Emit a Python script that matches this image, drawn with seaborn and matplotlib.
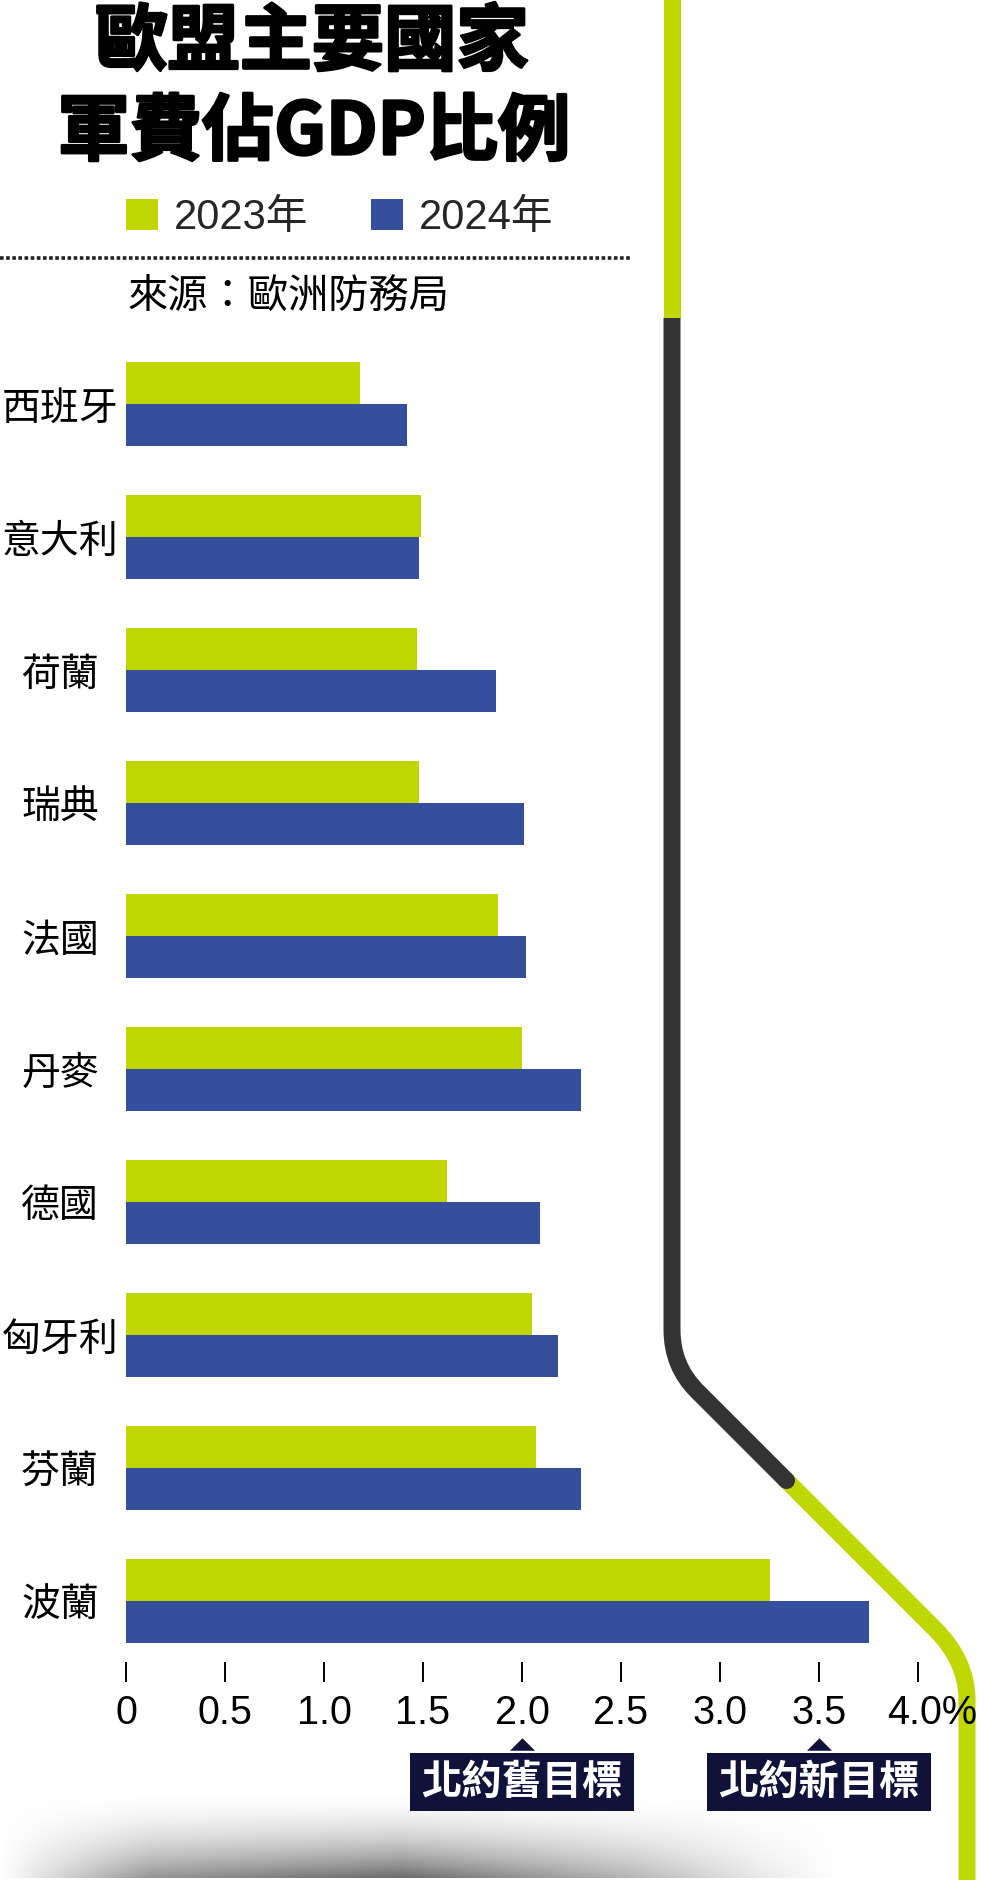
import numpy as np
import pandas as pd
import matplotlib
matplotlib.use('Agg')
import matplotlib.pyplot as plt
import seaborn as sns
from matplotlib.path import Path
from matplotlib.patches import PathPatch, Rectangle
import matplotlib.transforms as mtransforms
import matplotlib.patheffects as pe

# ---------------- data ----------------
countries = ['西班牙', '意大利', '荷蘭', '瑞典', '法國', '丹麥', '德國', '匈牙利', '芬蘭', '波蘭']
years = ['2023年', '2024年']
share_2023 = [1.18, 1.49, 1.47, 1.48, 1.88, 2.00, 1.62, 2.05, 2.07, 3.25]
share_2024 = [1.42, 1.48, 1.87, 2.01, 2.02, 2.30, 2.09, 2.18, 2.30, 3.75]
x_ticks = [0, 0.5, 1.0, 1.5, 2.0, 2.5, 3.0, 3.5, 4.0]
x_tick_labels = ['0', '0.5', '1.0', '1.5', '2.0', '2.5', '3.0', '3.5', '4.0%']
targets = [2.0, 3.5]
target_labels = ['北約舊目標', '北約新目標']
title_lines = ['歐盟主要國家', '軍費佔GDP比例']
source_text = '來源：歐洲防務局'

GREEN = '#BFD600'
BLUE = '#364F9C'
DARK = '#333333'
NAVY = '#10123A'

sns.set_style('white')
plt.rcParams['font.family'] = ['Liberation Sans', 'Noto Sans CJK TC', 'DejaVu Sans']
CJK = ['Noto Sans CJK TC', 'DejaVu Sans']

W, H = 984, 1880
fig = plt.figure(figsize=(W / 100, H / 100), dpi=100)
fig.patch.set_facecolor('white')


def fx(px):
    return px / W


def fy(py):
    return 1 - py / H


# overlay axes in pixel coordinates (decoration)
over = fig.add_axes([0, 0, 1, 1], zorder=0)
over.axis('off')

# ---------------- main bar chart ----------------
ax = fig.add_axes([fx(126), fy(1662), (918 - 126) / W, (1662 - 337.5) / H], zorder=1)
ax.patch.set_alpha(0)

df = pd.DataFrame({
    '國家': countries * 2,
    '年份': [years[0]] * len(countries) + [years[1]] * len(countries),
    '比例': share_2023 + share_2024,
})
sns.barplot(data=df, x='比例', y='國家', hue='年份', orient='h',
            palette={years[0]: GREEN, years[1]: BLUE}, width=0.632,
            saturation=1, errorbar=None, ax=ax, linewidth=0, edgecolor='none')

ax.set_xlim(0, 4)
ax.set_ylim(9.459, -0.5)
for s in ax.spines.values():
    s.set_visible(False)
ax.set_xlabel('')
ax.set_ylabel('')
ax.set_xticks(x_ticks, x_tick_labels)
ax.tick_params(axis='x', bottom=True, length=14.4, width=1.4, color='black',
               direction='out', pad=9, labelsize=28.5, labelcolor='black')
ax.tick_params(axis='y', left=False, length=0, pad=47.5, labelsize=28, labelcolor='black')
for lab in ax.get_yticklabels():
    lab.set_ha('center')
    lab.set_fontfamily(CJK)
last = ax.get_xticklabels()[-1]
last.set_transform(last.get_transform() + mtransforms.ScaledTranslation(0.14, 0, fig.dpi_scale_trans))

# legend
handles, labels = ax.get_legend_handles_labels()
ax.legend(handles, labels, ncol=2, loc='center left',
          bbox_to_anchor=(fx(126), fy(218)), bbox_transform=fig.transFigure,
          frameon=False, fontsize=30, handlelength=0.77, handleheight=0.77,
          handletextpad=0.38, columnspacing=1.5, borderpad=0, borderaxespad=0)

# ---------------- title & source ----------------
stroke = [pe.withStroke(linewidth=2.0, foreground='black')]
fig.text(fx(312), fy(43), title_lines[0], ha='center', va='center', fontsize=52,
         fontweight='bold', family=CJK, color='black', path_effects=stroke)
fig.text(fx(314), fy(133), title_lines[1], ha='center', va='center', fontsize=52,
         fontweight='bold', family=CJK, color='black', path_effects=stroke)
fig.text(fx(128), fy(296), source_text, ha='left', va='center', fontsize=29,
         family=CJK, color='black')

# dotted separator
over.plot([0, 631], [258, 258], color='#222222', lw=2.6, linestyle=(0, (1, 0.7)),
          solid_capstyle='butt', dash_capstyle='butt')

# ---------------- right-hand route line ----------------
LW = 17 * 72 / 100
green_top = Path([(672, -10), (672, 318)], [Path.MOVETO, Path.LINETO])
dark_mid = Path([(672, 318), (672, 1330), (672, 1366), (697, 1391), (786, 1480)],
                [Path.MOVETO, Path.LINETO, Path.CURVE3, Path.CURVE3, Path.LINETO])
green_bot = Path([(786, 1480), (935, 1629), (967, 1661), (967, 1700), (967, 1900)],
                 [Path.MOVETO, Path.LINETO, Path.CURVE3, Path.CURVE3, Path.LINETO])
over.add_patch(PathPatch(green_top, fill=False, edgecolor=GREEN, lw=LW, capstyle='butt'))
over.add_patch(PathPatch(green_bot, fill=False, edgecolor=GREEN, lw=LW, capstyle='butt', joinstyle='round'))
over.add_patch(PathPatch(dark_mid, fill=False, edgecolor=DARK, lw=LW, capstyle='butt', joinstyle='round'))
over.plot([786], [1480], marker='o', ms=LW, color=DARK, mew=0)

# ---------------- bottom shadow ----------------
y0s, y1s = 1785, 1878
Ws = 840
Hs = y1s - y0s
yy = np.linspace(0, 1, Hs)[:, None]
xx = np.arange(Ws)[None, :]
v = yy ** 2.0
h = np.interp(xx, [0, 40, 150, 400, 630, 760, 840], [0.0, 0.2, 0.72, 1.0, 0.5, 0.15, 0.0])
rgba = np.zeros((Hs, Ws, 4))
rgba[..., 3] = 0.58 * v * h
over.imshow(rgba, extent=(0, Ws, y1s, y0s), aspect='auto', interpolation='bilinear', zorder=0)

# ---------------- NATO target markers ----------------
btr = mtransforms.blended_transform_factory(ax.transData, over.transData)
unit_px = (918 - 126) / 4
for t, lab in zip(targets, target_labels):
    over.plot([t], [1744], marker=[(-1, -0.5), (1, -0.5), (0, 0.5)], ms=18,
              color=NAVY, mew=0, transform=btr, clip_on=False)
    over.add_patch(Rectangle((t - 112 / unit_px, 1753), 224 / unit_px, 58,
                             transform=btr, facecolor=NAVY, edgecolor='none', clip_on=False))
    over.text(t, 1782, lab, transform=btr, ha='center', va='center', color='white',
              fontsize=29, fontweight='bold', family=CJK)

over.set_xlim(0, W)
over.set_ylim(H, 0)

fig.savefig('out.png', dpi=100, facecolor='white')
